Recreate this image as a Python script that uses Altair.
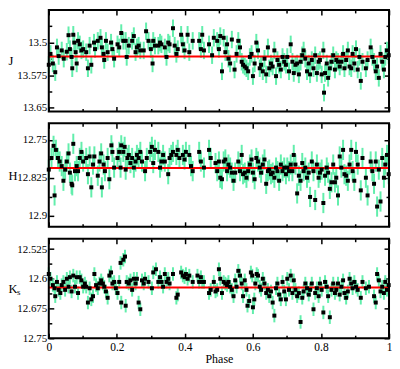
import altair as alt
import pandas as pd

FONT = "Liberation Serif, Times New Roman, serif"
BAR = "#62EEAC"

# (phase, magnitude) readings per band
j_points = [
(0.000,13.551),(0.005,13.526),(0.012,13.548),(0.019,13.568),(0.024,13.511),(0.029,13.531),(0.038,13.518),(0.044,13.537),
(0.053,13.521),(0.058,13.483),(0.062,13.515),(0.067,13.533),(0.069,13.559),(0.072,13.482),(0.075,13.500),(0.079,13.522),
(0.082,13.548),(0.086,13.496),(0.091,13.504),(0.096,13.518),(0.101,13.515),(0.110,13.522),(0.115,13.559),(0.120,13.507),
(0.125,13.551),(0.133,13.500),(0.136,13.515),(0.144,13.496),(0.152,13.489),(0.156,13.511),(0.161,13.526),(0.163,13.540),
(0.168,13.496),(0.173,13.522),(0.183,13.500),(0.187,13.515),(0.192,13.537),(0.202,13.504),(0.207,13.511),(0.213,13.478),
(0.219,13.496),(0.226,13.496),(0.229,13.533),(0.235,13.507),(0.245,13.496),(0.250,13.485),(0.255,13.522),(0.259,13.511),
(0.264,13.507),(0.269,13.518),(0.279,13.518),(0.286,13.474),(0.293,13.496),(0.300,13.515),(0.305,13.548),(0.307,13.496),
(0.312,13.507),(0.322,13.507),(0.327,13.500),(0.331,13.504),(0.341,13.511),(0.346,13.533),(0.351,13.500),(0.355,13.504),
(0.365,13.467),(0.370,13.507),(0.375,13.526),(0.379,13.515),(0.389,13.482),(0.394,13.504),(0.399,13.518),(0.408,13.482),
(0.413,13.522),(0.423,13.496),
(0.442,13.496),(0.447,13.515),(0.451,13.482),(0.456,13.518),(0.471,13.504),(0.480,13.529),(0.485,13.489),(0.495,13.496),
(0.500,13.515),(0.504,13.485),(0.509,13.566),(0.514,13.489),(0.519,13.522),(0.524,13.504),(0.528,13.537),(0.533,13.548),
(0.538,13.493),(0.546,13.562),(0.552,13.526),(0.557,13.496),(0.562,13.511),(0.567,13.544),(0.571,13.551),(0.576,13.555),
(0.581,13.559),(0.586,13.566),(0.591,13.533),(0.596,13.526),(0.600,13.577),(0.605,13.548),(0.610,13.500),(0.615,13.518),
(0.620,13.559),(0.624,13.551),(0.629,13.566),(0.634,13.537),(0.639,13.573),(0.644,13.511),(0.648,13.559),(0.653,13.548),
(0.658,13.555),(0.663,13.518),(0.668,13.577),(0.672,13.540),(0.677,13.551),(0.682,13.562),(0.687,13.533),(0.692,13.544),
(0.697,13.551),(0.701,13.533),(0.706,13.566),(0.711,13.504),(0.716,13.544),(0.720,13.570),(0.725,13.551),(0.730,13.548),
(0.735,13.573),(0.740,13.544),(0.745,13.529),(0.749,13.518),(0.754,13.537),(0.759,13.566),(0.764,13.548),(0.768,13.573),
(0.773,13.540),(0.778,13.559),(0.783,13.529),(0.788,13.570),(0.793,13.544),(0.797,13.540),(0.802,13.573),(0.807,13.518),
(0.809,13.615),(0.812,13.570),(0.817,13.548),(0.821,13.581),(0.826,13.559),(0.831,13.544),(0.836,13.529),(0.841,13.562),
(0.845,13.540),(0.850,13.544),(0.855,13.555),(0.860,13.544),(0.865,13.526),(0.869,13.559),(0.874,13.540),(0.879,13.518),
(0.884,13.555),(0.889,13.559),(0.893,13.526),(0.898,13.548),(0.903,13.515),(0.908,13.562),(0.913,13.533),(0.917,13.588),
(0.922,13.544),(0.932,13.559),(0.937,13.540),(0.946,13.511),(0.951,13.533),(0.956,13.544),(0.961,13.566),(0.965,13.555),
(0.970,13.581),(0.975,13.526),(0.980,13.544),(0.985,13.562),(0.989,13.533),(0.994,13.518),(0.999,13.529),
]

h_points = [
(0.000,12.809),(0.008,12.786),(0.014,12.762),(0.017,12.860),(0.021,12.770),(0.027,12.786),(0.032,12.793),(0.038,12.802),
(0.043,12.831),(0.048,12.809),(0.053,12.793),(0.058,12.777),(0.062,12.815),(0.067,12.837),(0.069,12.840),(0.072,12.758),
(0.077,12.812),(0.082,12.802),(0.086,12.812),(0.091,12.786),(0.096,12.774),(0.101,12.793),(0.110,12.786),(0.115,12.818),
(0.120,12.783),(0.125,12.844),(0.130,12.799),(0.134,12.783),(0.144,12.821),(0.149,12.793),(0.154,12.777),(0.156,12.844),
(0.161,12.799),(0.165,12.812),(0.173,12.786),(0.178,12.828),(0.184,12.761),(0.187,12.774),(0.192,12.805),(0.202,12.786),
(0.207,12.774),(0.211,12.805),(0.213,12.761),(0.219,12.774),(0.223,12.764),(0.226,12.809),(0.231,12.786),(0.235,12.780),
(0.240,12.796),(0.245,12.786),(0.250,12.805),(0.255,12.793),(0.259,12.780),(0.264,12.786),(0.269,12.774),(0.274,12.793),
(0.283,12.812),(0.288,12.786),(0.298,12.774),(0.303,12.764),(0.307,12.796),(0.312,12.770),(0.322,12.774),(0.327,12.805),
(0.331,12.793),(0.336,12.780),(0.341,12.793),(0.351,12.818),(0.355,12.786),(0.360,12.780),(0.365,12.774),(0.375,12.780),
(0.379,12.770),(0.384,12.786),(0.394,12.780),(0.399,12.789),(0.403,12.774),(0.413,12.780),(0.418,12.802),(0.423,12.812),
(0.442,12.774),(0.447,12.793),(0.456,12.805),(0.471,12.770),(0.476,12.786),(0.490,12.796),(0.495,12.812),(0.500,12.793),
(0.504,12.825),(0.509,12.828),(0.514,12.793),(0.519,12.789),(0.524,12.812),(0.528,12.799),(0.533,12.805),(0.538,12.815),
(0.543,12.831),(0.548,12.815),(0.557,12.793),(0.562,12.812),(0.567,12.780),(0.571,12.818),(0.576,12.815),(0.581,12.825),
(0.586,12.812),(0.591,12.799),(0.596,12.789),(0.600,12.815),(0.605,12.828),(0.610,12.786),(0.615,12.793),(0.620,12.805),
(0.624,12.815),(0.629,12.799),(0.634,12.789),(0.639,12.837),(0.644,12.812),(0.648,12.809),(0.653,12.818),(0.658,12.815),
(0.663,12.825),(0.668,12.805),(0.672,12.812),(0.677,12.831),(0.682,12.799),(0.687,12.812),(0.692,12.805),(0.697,12.818),
(0.701,12.805),(0.706,12.812),(0.711,12.799),(0.716,12.812),(0.720,12.780),(0.725,12.799),(0.730,12.856),(0.735,12.821),
(0.740,12.831),(0.745,12.796),(0.749,12.812),(0.754,12.805),(0.759,12.825),(0.764,12.815),(0.768,12.863),(0.773,12.793),
(0.778,12.812),(0.783,12.869),(0.788,12.799),(0.793,12.825),(0.797,12.815),(0.802,12.809),(0.807,12.875),(0.812,12.821),
(0.817,12.805),(0.821,12.815),(0.826,12.847),(0.831,12.834),(0.836,12.799),(0.841,12.834),(0.845,12.825),(0.850,12.860),
(0.855,12.783),(0.860,12.805),(0.865,12.770),(0.869,12.818),(0.874,12.821),(0.879,12.831),(0.884,12.799),(0.889,12.770),
(0.893,12.812),(0.898,12.831),(0.903,12.774),(0.908,12.799),(0.917,12.850),(0.922,12.786),(0.932,12.825),(0.937,12.860),
(0.946,12.793),(0.951,12.812),(0.956,12.837),(0.961,12.793),(0.965,12.882),(0.970,12.809),(0.975,12.872),(0.980,12.786),
(0.985,12.825),(0.989,12.799),(0.994,12.780),(0.999,12.818),
]

k_points = [
(0.000,12.588),(0.005,12.600),(0.012,12.616),(0.017,12.624),(0.019,12.644),(0.024,12.608),(0.029,12.628),(0.034,12.636),
(0.038,12.616),(0.043,12.608),(0.048,12.628),(0.053,12.600),(0.058,12.620),(0.062,12.596),(0.067,12.632),(0.072,12.592),
(0.077,12.620),(0.082,12.596),(0.086,12.636),(0.091,12.596),(0.096,12.604),(0.101,12.620),(0.106,12.612),(0.110,12.620),
(0.115,12.660),(0.120,12.624),(0.125,12.652),(0.130,12.644),(0.134,12.588),(0.139,12.616),(0.144,12.624),(0.149,12.612),
(0.154,12.604),(0.159,12.612),(0.163,12.620),(0.168,12.632),(0.173,12.648),(0.178,12.592),(0.183,12.584),(0.187,12.612),
(0.192,12.608),(0.197,12.624),(0.202,12.636),(0.207,12.608),(0.211,12.560),(0.213,12.660),(0.219,12.552),(0.224,12.544),
(0.226,12.668),(0.229,12.608),(0.235,12.612),(0.240,12.604),(0.245,12.628),(0.250,12.600),(0.255,12.612),(0.259,12.600),
(0.264,12.660),(0.269,12.677),(0.274,12.604),(0.279,12.612),(0.283,12.600),(0.293,12.608),(0.303,12.624),(0.307,12.584),
(0.315,12.576),(0.322,12.608),(0.327,12.596),(0.331,12.608),(0.336,12.620),(0.341,12.588),(0.346,12.608),(0.351,12.600),
(0.355,12.612),(0.365,12.588),(0.375,12.648),(0.379,12.640),(0.389,12.584),(0.394,12.592),(0.399,12.596),(0.403,12.588),
(0.408,12.600),(0.413,12.592),(0.423,12.608),
(0.437,12.592),(0.442,12.608),(0.447,12.596),(0.451,12.608),(0.456,12.608),(0.471,12.636),(0.476,12.628),(0.485,12.608),
(0.490,12.632),(0.495,12.628),(0.500,12.576),(0.504,12.600),(0.509,12.636),(0.514,12.608),(0.519,12.612),(0.524,12.616),
(0.528,12.608),(0.533,12.620),(0.538,12.628),(0.543,12.644),(0.548,12.604),(0.552,12.620),(0.557,12.580),(0.562,12.592),
(0.567,12.612),(0.571,12.644),(0.576,12.604),(0.581,12.628),(0.584,12.668),(0.589,12.656),(0.594,12.584),(0.598,12.592),
(0.600,12.672),(0.604,12.652),(0.607,12.612),(0.611,12.588),(0.615,12.592),(0.620,12.620),(0.624,12.628),(0.629,12.600),
(0.634,12.612),(0.639,12.636),(0.644,12.628),(0.648,12.644),(0.653,12.632),(0.658,12.660),(0.663,12.693),(0.668,12.624),
(0.672,12.612),(0.677,12.640),(0.682,12.652),(0.687,12.608),(0.692,12.632),(0.697,12.652),(0.701,12.600),(0.706,12.628),
(0.711,12.592),(0.716,12.636),(0.720,12.604),(0.725,12.628),(0.730,12.644),(0.735,12.636),(0.740,12.709),(0.745,12.648),
(0.749,12.632),(0.754,12.612),(0.759,12.624),(0.764,12.640),(0.768,12.628),(0.773,12.612),(0.778,12.677),(0.783,12.636),
(0.788,12.624),(0.793,12.644),(0.797,12.612),(0.802,12.628),(0.807,12.685),(0.812,12.608),(0.817,12.620),(0.821,12.644),
(0.826,12.697),(0.831,12.628),(0.836,12.612),(0.841,12.636),(0.845,12.628),(0.850,12.612),(0.855,12.640),(0.860,12.620),
(0.865,12.604),(0.869,12.636),(0.874,12.648),(0.879,12.632),(0.884,12.600),(0.889,12.612),(0.893,12.624),(0.898,12.608),
(0.903,12.620),(0.908,12.628),(0.917,12.648),(0.922,12.608),(0.932,12.624),(0.941,12.620),(0.956,12.644),(0.961,12.660),
(0.965,12.588),(0.970,12.604),(0.975,12.632),(0.980,12.620),(0.985,12.636),(0.989,12.608),(0.994,12.628),(0.999,12.616),
]

# error bar half-lengths and mean levels (red lines)
band_err = {"J": 0.02, "H": 0.02, "K": 0.017}
band_mean = {"J": 13.532, "H": 12.806, "K": 12.622}
band_domain = {"J": [13.425, 13.658], "H": [12.7175, 12.922], "K": [12.499, 12.75]}
band_major = {"J": [13.5, 13.575, 13.65], "H": [12.75, 12.825, 12.9], "K": [12.525, 12.6, 12.675, 12.75]}
band_minor = {"J": [13.4625, 13.5375, 13.6125], "H": [12.7875, 12.8625], "K": [12.5625, 12.6375, 12.7125]}
band_title = {"J": "J", "H": "H", "K": "K"}
x_major = [0, 0.2, 0.4, 0.6, 0.8, 1.0]
x_minor = [0.1, 0.3, 0.5, 0.7, 0.9]

# panel placement inside the single plot area (pixels from its top)
band_rows = {"J": (0, 102), "H": (114, 218), "K": (230, 330)}
HT = 330
W = 342
MAJ = 5
MIN = 3
LBL = "'' + datum.value"


def ax(orient, values, size, offset, labels=False, title=None, pad=3, fs=11.5, **kw):
    return alt.Axis(orient=orient, values=values, tickSize=size, offset=offset, domain=False,
                    grid=False, labels=labels, title=title, tickColor="black", tickWidth=1.5,
                    labelOverlap=False, labelFlush=False, labelPadding=pad, labelExpr=LBL,
                    labelFont=FONT, titleFont=FONT, labelFontSize=fs, labelColor="black",
                    titleColor="black", titleFontWeight="normal", **kw)


xs = alt.Scale(domain=[0, 1], nice=False, zero=False)
layers = []
for band, points in (("J", j_points), ("H", h_points), ("K", k_points)):
    top, bot = band_rows[band]
    dmin, dmax = band_domain[band]
    ys = alt.Scale(domain=[dmin, dmax], range=[top, bot], nice=False, zero=False)
    df = pd.DataFrame(points, columns=["phase", "mag"])
    err = band_err[band]
    last = band == "K"

    bars = alt.Chart(df).transform_calculate(
        lo=f"datum.mag - {err}", hi=f"datum.mag + {err}").mark_rule(
        color=BAR, strokeWidth=2).encode(
        x=alt.X("phase:Q", scale=xs, axis=None),
        y=alt.Y("lo:Q", scale=ys, axis=None), y2="hi:Q")
    mean_line = alt.Chart(pd.DataFrame({"m": [band_mean[band]]})).mark_rule(
        color="#ff0000", strokeWidth=2).encode(y=alt.Y("m:Q", scale=ys, axis=None))
    pts = alt.Chart(df).mark_square(size=16, color="black", opacity=1).encode(
        x=alt.X("phase:Q", scale=xs, axis=None),
        y=alt.Y("mag:Q", scale=ys, axis=None))
    frame = alt.Chart(pd.DataFrame({"x0": [0], "x1": [1], "y0": [dmin], "y1": [dmax]})).mark_rect(
        fillOpacity=0, stroke="black", strokeWidth=2).encode(
        x=alt.X("x0:Q", scale=xs, axis=None), x2="x1:Q",
        y=alt.Y("y0:Q", scale=ys, axis=None), y2="y1:Q")
    layers += [bars, mean_line, pts, frame]

    anchor = pd.DataFrame({"phase": [0.5], "mag": [band_mean[band]]})
    yt = dict(titleAngle=0, titleAlign="left", titleBaseline="middle",
              titleX=-46, titleY=(top + bot) / 2, titleFontSize=12.5)
    specs = [
        (ax("bottom", x_major, MAJ, -(HT - bot) - MAJ, labels=last,
            title="Phase" if last else None, pad=3, titlePadding=1, titleFontSize=12),
         ax("left", band_major[band], MAJ, -MAJ, labels=True, title=band_title[band],
            pad=2, fs=11, **yt)),
        (ax("bottom", x_minor, MIN, -(HT - bot) - MIN), ax("left", band_minor[band], MIN, -MIN)),
        (ax("top", x_major, MAJ, -top - MAJ), ax("right", band_major[band], MAJ, -MAJ)),
        (ax("top", x_minor, MIN, -top - MIN), ax("right", band_minor[band], MIN, -MIN)),
    ]
    for xa, ya in specs:
        layers.append(alt.Chart(anchor).mark_point(opacity=0).encode(
            x=alt.X("phase:Q", scale=xs, axis=xa),
            y=alt.Y("mag:Q", scale=ys, axis=ya)))
    if last:
        layers.append(alt.Chart(pd.DataFrame({"t": ["s"]})).mark_text(
            font=FONT, fontSize=9, align="left", baseline="middle", color="black").encode(
            x=alt.value(-32), y=alt.value((top + bot) / 2 + 4), text="t:N"))

chart = alt.layer(*layers).resolve_scale(y="independent").resolve_axis(
    x="independent", y="independent").properties(
    width=W, height=HT, padding=0).configure_view(strokeOpacity=0)

chart.save("out.html", embed_options={"renderer": "svg", "actions": False})
